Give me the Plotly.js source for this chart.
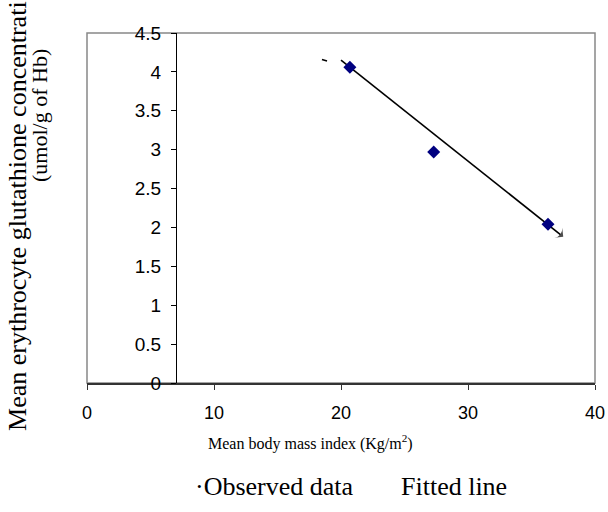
<!DOCTYPE html>
<html>
<head>
<meta charset="utf-8">
<script src="https://cdn.plot.ly/plotly-3.0.1.min.js"></script>
<style>html,body{margin:0;padding:0;background:#fff;}#chart{width:608px;height:512px;}</style>
</head>
<body>
<div id="chart"></div>
<script>
// Observed data
const bmi = [20.7, 27.3, 36.3];
const gsh = [4.06, 2.97, 2.04];
// Fitted line (start and arrow tip)
const fitX = [20.0, 37.5];
const fitY = [4.15, 1.88];
// Stray legend dash
const dashX = [18.5, 18.9];
const dashY = [4.16, 4.14];
// Axis ticks
const xTicks = [0, 10, 20, 30, 40];
const yTicks = [0, 0.5, 1, 1.5, 2, 2.5, 3, 3.5, 4, 4.5];

const traces = [
  {x: fitX, y: fitY, mode: 'lines+markers', type: 'scatter',
   line: {color: '#000', width: 1.6},
   marker: {symbol: ['circle', 'arrow-wide'], size: [0, 9], angleref: 'previous', color: '#000', line: {width: 0}},
   showlegend: false, hoverinfo: 'skip'},
  {x: dashX, y: dashY, mode: 'lines', type: 'scatter',
   line: {color: '#000', width: 1.6}, showlegend: false, hoverinfo: 'skip'},
  {x: bmi, y: gsh, mode: 'markers', type: 'scatter',
   marker: {symbol: 'diamond', size: 10, color: '#000080'},
   showlegend: false}
];

const serif = 'Liberation Serif, Times New Roman, serif';
const sans = 'Liberation Sans, Arial, sans-serif';

const layout = {
  width: 608, height: 512,
  margin: {l: 87, r: 13, t: 33, b: 129},
  paper_bgcolor: '#fff', plot_bgcolor: '#fff',
  showlegend: false,
  xaxis: {range: [0, 40], tickvals: xTicks, ticks: 'outside', ticklen: 5, tickcolor: '#333',
          showline: true, linecolor: '#333', linewidth: 1.5, showgrid: false, zeroline: false,
          tickfont: {family: sans, size: 18, color: '#000'}, ticklabelstandoff: 8, fixedrange: true},
  yaxis: {range: [0, 4.5], tickvals: yTicks, ticks: 'outside', ticklen: 5, tickcolor: '#000',
          anchor: 'free', position: 7 / 40,
          showline: true, linecolor: '#000', linewidth: 1.2, showgrid: false, zeroline: false,
          tickfont: {family: sans, size: 19, color: '#000'}, ticklabelstandoff: 6, fixedrange: true},
  shapes: [
    {type: 'rect', xref: 'paper', yref: 'paper', x0: 0, x1: 1, y0: 0, y1: 1,
     line: {color: '#888', width: 1.5}, layer: 'below'}
  ],
  annotations: [
    {text: 'Mean body mass index (Kg/m<sup>2</sup>)', xref: 'paper', yref: 'paper',
     x: 0.439, y: -0.171, showarrow: false, xanchor: 'center', yanchor: 'middle',
     font: {family: serif, size: 16, color: '#000'}},
    {text: '\u00b7Observed data', xref: 'paper', yref: 'paper',
     x: 0.37, y: -0.297, showarrow: false, xanchor: 'center', yanchor: 'middle',
     font: {family: serif, size: 26, color: '#000'}},
    {text: 'Fitted line', xref: 'paper', yref: 'paper',
     x: 0.722, y: -0.297, showarrow: false, xanchor: 'center', yanchor: 'middle',
     font: {family: serif, size: 26, color: '#000'}},
    {text: 'Mean erythrocyte glutathione concentrati', xref: 'paper', yref: 'paper',
     x: -0.138, y: 0.477, textangle: -90, showarrow: false, xanchor: 'center', yanchor: 'middle',
     font: {family: serif, size: 26, color: '#000'}},
    {text: '(umol/g of Hb)', xref: 'paper', yref: 'paper',
     x: -0.0925, y: 0.763, textangle: -90, showarrow: false, xanchor: 'center', yanchor: 'middle',
     font: {family: serif, size: 22, color: '#000'}}
  ]
};

Plotly.newPlot('chart', traces, layout, {displayModeBar: false, staticPlot: true});
</script>
</body>
</html>
